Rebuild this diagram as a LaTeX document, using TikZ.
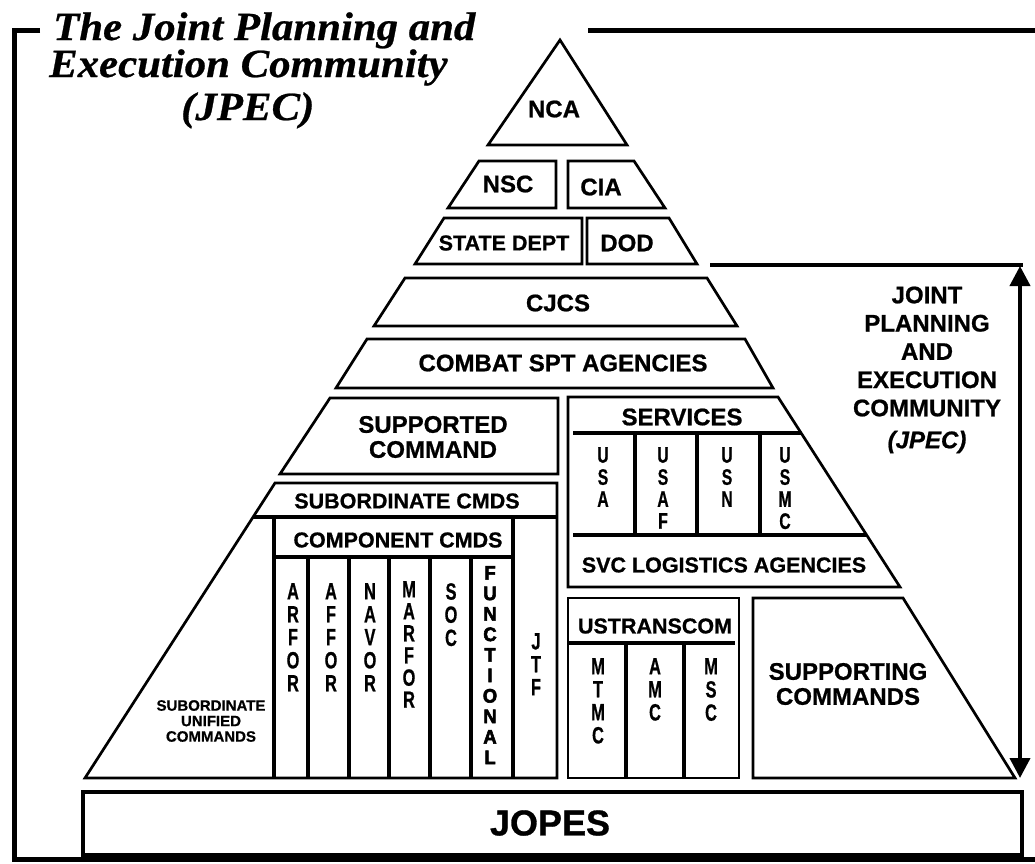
\documentclass[tikz,border=0pt]{standalone}
\usepackage{fontspec}
\usepackage{graphicx}
\setmainfont{Liberation Sans}[BoldFeatures={FakeBold=0.8},BoldItalicFeatures={FakeBold=0.8}]
\newfontfamily\titlefont{Liberation Serif}[BoldItalicFeatures={FakeBold=0.6}]
\newfontfamily\heavyfont{Liberation Sans Bold}[FakeBold=3]
\usetikzlibrary{arrows.meta}
\newcommand{\vstk}[2]{\scalebox{#1}[1]{\begin{tabular}{@{}c@{}}#2\end{tabular}}}
\newcommand{\wide}[1]{\scalebox{1.07}[1]{#1}}
\begin{document}
\begin{tikzpicture}[x=1pt,y=-1pt,
  box/.style={draw,line width=2.7pt,line join=miter},
  div/.style={line width=3.5pt},
  frame/.style={line width=5pt},
  lbl/.style={font=\fontsize{24}{25}\selectfont\bfseries,inner sep=0pt,align=center},
  mid/.style={font=\fontsize{21.5}{22.5}\selectfont\bfseries,inner sep=0pt,align=center},
  col/.style={font=\fontsize{23.5}{22.5}\selectfont\bfseries,inner sep=0pt,anchor=north},
  svc/.style={font=\fontsize{22.5}{21.5}\selectfont\bfseries,inner sep=0pt,anchor=north},
  title/.style={font=\fontsize{40}{40}\selectfont\titlefont\bfseries\itshape,inner sep=0pt,anchor=base west}]
\useasboundingbox (0,0) rectangle (1035,863);
\fill[white] (0,0) rectangle (1035,863);

% frame
\draw[frame] (40,30) -- (14,30) -- (14,859) -- (1040,859);
\draw[frame] (588,30) -- (1040,30);

% title
\node[title] (t1) at (53,40) {\wide{The Joint Planning and}};
\node[title] (t2) at (49,77) {\wide{Execution Community}};
\node[title] (t3) at (181,120) {\wide{(JPEC)}};

% NCA
\draw[box] (560,40) -- (627,145) -- (488,145) -- cycle;
\node[lbl] (nca) at (554,109) {NCA};

% NSC / CIA
\draw[box] (479,161) -- (556,161) -- (556,208) -- (448,208) -- cycle;
\draw[box] (568,161) -- (634,161) -- (665,208) -- (568,208) -- cycle;
\node[lbl] (nsc) at (508,184) {NSC};
\node[lbl] (cia) at (601,187) {CIA};

% STATE DEPT / DOD
\draw[box] (444,218) -- (582,218) -- (582,264) -- (415,264) -- cycle;
\draw[box] (587,218) -- (669,218) -- (697,264) -- (587,264) -- cycle;
\node[mid] (state) at (504,243) {STATE DEPT};
\node[lbl] (dod) at (627,243) {DOD};

% CJCS
\draw[box] (405,278) -- (707,278) -- (737,326) -- (374,326) -- cycle;
\node[lbl] (cjcs) at (558,303) {CJCS};

% COMBAT SPT AGENCIES
\draw[box] (367,339) -- (745,339) -- (773,388) -- (336,388) -- cycle;
\node[lbl] (csa) at (563,363) {COMBAT SPT AGENCIES};

% SUPPORTED COMMAND
\draw[box] (330,398) -- (558,398) -- (558,474) -- (280,474) -- cycle;
\node[lbl] (suppd) at (433,437) {SUPPORTED\\COMMAND};

% SERVICES
\draw[box] (568,397) -- (778,397) -- (900,587) -- (568,587) -- cycle;
\draw[div] (573,433) -- (801,433);
\draw[div] (573,535) -- (866,535);
\draw[div] (635,433) -- (635,535);
\draw[div] (697,433) -- (697,535);
\draw[div] (760,433) -- (760,535);
\node[lbl] (serv) at (682,417) {SERVICES};
\node[svc] (usa) at (603,447) {\vstk{0.7}{U\\S\\A}};
\node[svc] (usaf) at (663,447) {\vstk{0.7}{U\\S\\A\\F}};
\node[svc] (usn) at (727,447) {\vstk{0.7}{U\\S\\N}};
\node[svc] (usmc) at (785,447) {\vstk{0.7}{U\\S\\M\\C}};
\node[mid] (svclog) at (724,565) {SVC LOGISTICS AGENCIES};

% left block
\draw[box] (275,483) -- (557,483) -- (557,778) -- (85,778) -- cycle;
\draw[div] (253,517) -- (557,517);
\node[mid] (subcmds) at (407,501) {SUBORDINATE CMDS};
\draw[div] (274,519) -- (274,778);
\draw[div] (513,519) -- (513,778);
\draw[div] (274,557) -- (513,557);
\foreach \x in {308,349,389,430,471} \draw[div] (\x,557) -- (\x,778);
\node[mid] (compcmds) at (398,540) {COMPONENT CMDS};
\node[col] (arfor) at (293,583) {\vstk{0.7}{A\\R\\F\\O\\R}};
\node[col] (affor) at (331,583) {\vstk{0.7}{A\\F\\F\\O\\R}};
\node[col] (navor) at (370,583) {\vstk{0.7}{N\\A\\V\\O\\R}};
\node[col,font=\fontsize{23.5}{19.5}\selectfont\bfseries] (marfor) at (409,581) {\vstk{0.7}{M\\A\\R\\F\\O\\R}};
\node[col] (soc) at (451,583) {\vstk{0.7}{S\\O\\C}};
\node[col,font=\fontsize{19.5}{20.5}\selectfont\heavyfont] (func) at (490,565) {\vstk{0.95}{F\\U\\N\\C\\T\\I\\O\\N\\A\\L}};
\node[col] (jtf) at (536,633) {\vstk{0.7}{J\\T\\F}};
\node[inner sep=0pt,align=center,font=\fontsize{15}{15.5}\selectfont\bfseries] (suc) at (211,721) {SUBORDINATE\\UNIFIED\\COMMANDS};

% USTRANSCOM
\draw[box] (568,598) rectangle (739,778);
\draw[div] (568,643) -- (735,643);
\draw[div] (626,643) -- (626,778);
\draw[div] (684,643) -- (684,778);
\node[mid] (ustc) at (655,626) {USTRANSCOM};
\node[col] (mtmc) at (598,658) {\vstk{0.7}{M\\T\\M\\C}};
\node[col] (amc) at (655,658) {\vstk{0.7}{A\\M\\C}};
\node[col] (msc) at (711,658) {\vstk{0.7}{M\\S\\C}};

% SUPPORTING COMMANDS
\draw[box] (753,598) -- (903,598) -- (1015,778) -- (753,778) -- cycle;
\node[lbl] (suppg) at (848,684) {SUPPORTING\\COMMANDS};

% JOPES
\draw[box,line width=3.5pt] (83,792) rectangle (1022,855);
\node[inner sep=0pt,font=\fontsize{36}{36}\selectfont\bfseries] (jopes) at (550,823) {JOPES};

% JPEC range arrow
\coordinate (hl) at (710,265);
\coordinate (hr) at (1023,265);
\coordinate (atop) at (1020,266);
\coordinate (abot) at (1020,778);
\draw[line width=4pt] (hl) -- (hr);
\draw[line width=4pt,{Triangle[width=20pt,length=20pt]}-{Triangle[width=20pt,length=20pt]}] (atop) -- (abot);
\node[inner sep=0pt,align=center,font=\fontsize{24}{28.25}\selectfont\bfseries] (jpec) at (927,351.5) {JOINT\\PLANNING\\AND\\EXECUTION\\COMMUNITY};
\node[inner sep=0pt,font=\fontsize{24}{25}\selectfont\bfseries\itshape] (jpecab) at (927,442) {(JPEC)};
\end{tikzpicture}
\end{document}
